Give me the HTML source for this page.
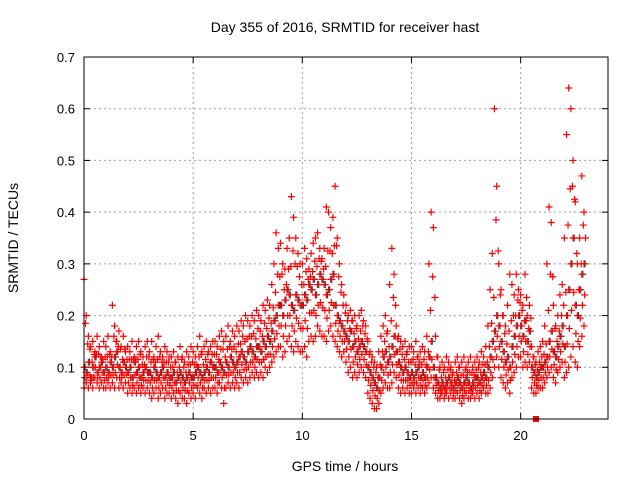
<!DOCTYPE html>
<html><head><meta charset="utf-8"><style>
body{margin:0;background:#fff}
svg{display:block;font-family:"Liberation Sans",sans-serif}
</style></head><body>
<svg id="c" width="640" height="480">
<text x="345" y="32" text-anchor="middle" font-size="14">Day 355 of 2016, SRMTID for receiver hast</text>
<text x="345" y="471" text-anchor="middle" font-size="14">GPS time / hours</text>
<text transform="translate(18,238) rotate(-90)" text-anchor="middle" font-size="14">SRMTID / TECUs</text>
<g id="grid"></g><g id="ticks"></g><g id="marks"></g>
<rect x="84" y="57" width="524" height="362" fill="none" stroke="#000" stroke-width="1"/>
</svg>
<script>
const xTicks=[0,5,10,15,20];
const yTicks=[0,0.1,0.2,0.3,0.4,0.5,0.6,0.7];
const yTickLabels=["0","0.1","0.2","0.3","0.4","0.5","0.6","0.7"];
const tStart=0, tStep=0.1;
const median=[.10,.09,.11,.08,.10,.12,.09,.10,.11,.09,.10,.09,.11,.10,.12,.13,.10,.09,.11,.10,.09,.10,.08,.11,.09,.10,.08,.09,.10,.09,.09,.08,.10,.09,.08,.09,.10,.08,.09,.08,.08,.09,.07,.08,.09,.08,.07,.08,.09,.08,.08,.09,.10,.09,.08,.09,.10,.09,.11,.10,.10,.09,.11,.10,.09,.11,.10,.12,.11,.10,.11,.12,.13,.12,.11,.13,.14,.13,.12,.14,.14,.13,.15,.14,.16,.15,.17,.19,.20,.22,.22,.20,.23,.25,.24,.22,.21,.24,.23,.22,.22,.24,.23,.26,.25,.27,.24,.26,.28,.27,.26,.24,.25,.27,.28,.22,.20,.19,.18,.17,.16,.15,.17,.14,.15,.13,.14,.15,.14,.13,.10,.09,.08,.07,.06,.08,.10,.12,.13,.11,.12,.14,.16,.13,.11,.10,.09,.10,.09,.08,.09,.08,.09,.10,.08,.09,.08,.10,.12,.15,.10,.08,.07,.06,.07,.06,.07,.08,.07,.06,.07,.08,.07,.06,.07,.08,.07,.06,.07,.08,.08,.07,.08,.09,.08,.10,.12,.15,.17,.20,.18,.15,.13,.11,.12,.10,.14,.16,.18,.20,.18,.16,.19,.15,.17,.10,.09,.08,.09,.10,.10,.11,.12,.15,.17,.13,.12,.14,.16,.18,.14,.20,.25,.30,.35,.22,.20,.25,.28,.30];
const low=[.06,.07,.06,.07,.06,.08,.07,.06,.07,.06,.06,.07,.06,.07,.06,.08,.06,.07,.06,.07,.05,.06,.05,.06,.05,.06,.05,.06,.05,.06,.05,.04,.05,.06,.04,.05,.06,.04,.05,.05,.04,.05,.04,.03,.05,.04,.04,.03,.05,.04,.05,.04,.06,.05,.04,.06,.05,.06,.05,.06,.06,.05,.07,.06,.03,.06,.07,.06,.07,.06,.07,.06,.08,.07,.08,.07,.08,.09,.08,.09,.08,.09,.08,.10,.09,.10,.11,.12,.13,.14,.14,.12,.13,.15,.16,.14,.13,.15,.14,.13,.13,.14,.12,.15,.16,.15,.16,.18,.17,.16,.16,.15,.17,.18,.16,.15,.14,.13,.12,.13,.11,.09,.10,.08,.09,.08,.09,.10,.09,.08,.05,.04,.03,.02,.02,.03,.05,.06,.07,.06,.06,.07,.09,.08,.06,.05,.06,.05,.06,.05,.05,.06,.05,.06,.05,.06,.05,.06,.07,.08,.06,.05,.04,.04,.05,.04,.05,.04,.05,.04,.04,.05,.04,.03,.04,.05,.04,.04,.05,.04,.05,.04,.05,.06,.05,.05,.06,.08,.10,.12,.10,.08,.07,.06,.07,.05,.08,.09,.10,.12,.12,.10,.11,.10,.11,.06,.05,.05,.06,.06,.06,.07,.08,.09,.10,.08,.07,.09,.10,.11,.08,.09,.10,.12,.14,.11,.10,.14,.16,.18];
const high=[.27,.20,.16,.14,.15,.13,.16,.14,.12,.15,.14,.16,.13,.22,.18,.15,.17,.14,.16,.13,.14,.13,.15,.12,.14,.15,.13,.12,.14,.15,.13,.15,.12,.14,.16,.13,.12,.14,.13,.12,.12,.13,.11,.12,.14,.12,.11,.13,.12,.14,.13,.12,.14,.16,.13,.14,.15,.13,.14,.15,.15,.14,.16,.17,.15,.16,.18,.15,.17,.16,.18,.17,.19,.18,.20,.19,.18,.20,.19,.21,.20,.19,.22,.21,.23,.22,.26,.30,.36,.33,.34,.30,.29,.33,.35,.43,.39,.35,.32,.30,.30,.33,.31,.29,.32,.34,.35,.36,.33,.31,.33,.41,.40,.37,.39,.45,.35,.30,.26,.24,.22,.20,.21,.19,.20,.18,.20,.21,.19,.18,.15,.13,.12,.11,.10,.13,.16,.18,.20,.17,.26,.33,.28,.18,.16,.15,.14,.15,.13,.14,.14,.13,.15,.12,.13,.14,.13,.16,.30,.40,.37,.16,.12,.10,.11,.10,.12,.11,.10,.09,.11,.12,.10,.11,.12,.10,.11,.12,.10,.11,.12,.11,.13,.12,.14,.18,.25,.32,.60,.45,.30,.25,.20,.18,.22,.28,.26,.24,.28,.25,.24,.22,.28,.20,.22,.14,.12,.11,.13,.14,.15,.18,.30,.41,.38,.22,.18,.20,.24,.26,.35,.55,.64,.60,.50,.42,.30,.35,.47,.40];
const NS="http://www.w3.org/2000/svg";
const X0=84,X1=608,Y0=419,Y1=57;
function xs(t){return X0+(t-0)/(24-0)*(X1-X0);}
function ys(v){return Y0-(v-0)/(0.7-0)*(Y0-Y1);}
function mk(tag,p,a){const e=document.createElementNS(NS,tag);for(const k in a)e.setAttribute(k,a[k]);p.appendChild(e);return e;}
const grid=document.getElementById('grid'),ticks=document.getElementById('ticks'),marks=document.getElementById('marks');
xTicks.forEach(t=>{const x=xs(t);
 if(t>0){const g=mk('line',grid,{x1:x,x2:x,y1:Y1,y2:Y0,stroke:'#a0a0a0','stroke-dasharray':'2,3'});
 
 }
 mk('line',ticks,{x1:x,x2:x,y1:Y0,y2:Y0-6,stroke:'#000'});
 mk('line',ticks,{x1:x,x2:x,y1:Y1,y2:Y1+6,stroke:'#000'});
 const l=mk('text',ticks,{x:x,y:Y0+21,'text-anchor':'middle','font-size':'13'});l.textContent=t;
 
 });
yTicks.forEach((v,i)=>{const y=ys(v);
 if(v>0&&v<0.7){const g=mk('line',grid,{x1:X0,x2:X1,y1:y,y2:y,stroke:'#a0a0a0','stroke-dasharray':'2,3'});
 
 }
 mk('line',ticks,{x1:X0,x2:X0+6,y1:y,y2:y,stroke:'#000'});
 mk('line',ticks,{x1:X1,x2:X1-6,y1:y,y2:y,stroke:'#000'});
 const l=mk('text',ticks,{x:X0-9,y:y+5,'text-anchor':'end','font-size':'13'});l.textContent=yTickLabels[i];
 
 });
function plus(t,v,col){const x=xs(t),y=ys(v);
 const p=mk('path',marks,{d:`M${x-3.5},${y}H${x+3.5}M${x},${y-3.5}V${y+3.5}`,stroke:col,'stroke-width':'1.2',fill:'none'});
 
 }
median.forEach((v,i)=>{plus(tStart+i*tStep+0.05,v,'#404040');});
[median,low,high].forEach(arr=>arr.forEach((v,i)=>{const t=tStart+i*tStep;plus(t,v,'#ff0000');}));
median.forEach((v,i)=>{const t=tStart+i*tStep;plus(t+0.03,(v+low[i])/2,'#ff0000');plus(t+0.07,(v+high[i])/2,'#ff0000');});
const sq=mk('rect',marks,{x:xs(20.7)-3,y:Y0-3,width:6,height:6,fill:'#ff0000'});


</script>
</body></html>
